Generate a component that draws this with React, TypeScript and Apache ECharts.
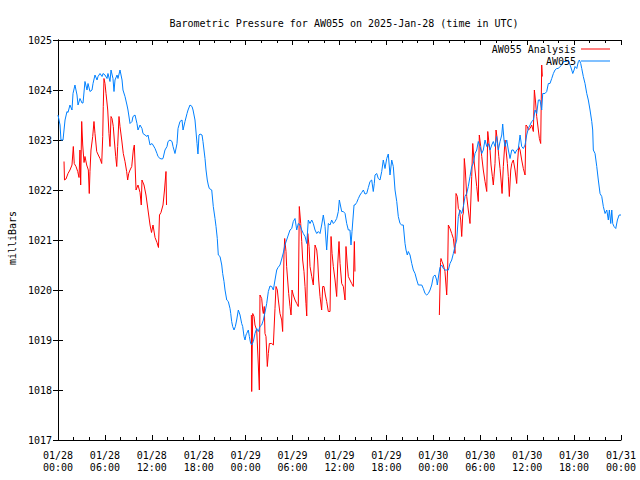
import { useEffect, useRef } from 'react';
import * as echarts from 'echarts';

const FONT = 'DejaVu Sans Mono';

const titleText = 'Barometric Pressure for AW055 on 2025-Jan-28 (time in UTC)';
const yAxisTitle = 'milliBars';
const seriesNames = ['AW055 Analysis', 'AW055'];
const xTickLabels = [
  '01/28\n00:00', '01/28\n06:00', '01/28\n12:00', '01/28\n18:00',
  '01/29\n00:00', '01/29\n06:00', '01/29\n12:00', '01/29\n18:00',
  '01/30\n00:00', '01/30\n06:00', '01/30\n12:00', '01/30\n18:00',
  '01/31\n00:00',
];

// [hours since 2025-01-28 00:00 UTC, pressure mb]
const aw055: [number, number][] = [
  [0.0,1023.5],[0.26,1023.3],[0.38,1023.0],[0.64,1023.0],[0.9,1023.4],[1.15,1023.57],[1.28,1023.55],[1.53,1023.7],[1.79,1023.6],[1.92,1023.93],[2.17,1024.1],[2.43,1023.9],[2.56,1023.7],[2.81,1023.83],[3.07,1023.74],[3.2,1023.74],[3.45,1024.17],[3.71,1024.0],[3.84,1024.13],[4.09,1023.97],[4.35,1024.0],[4.48,1024.13],[4.73,1024.3],[4.99,1024.2],[5.12,1024.27],[5.37,1024.33],[5.63,1024.27],[5.76,1024.33],[6.01,1024.3],[6.27,1024.23],[6.39,1024.33],[6.65,1024.17],[6.78,1024.4],[7.03,1024.23],[7.16,1023.97],[7.29,1024.2],[7.55,1024.3],[7.67,1024.23],[7.93,1024.4],[8.19,1024.2],[8.31,1024.0],[8.57,1023.87],[8.82,1023.7],[8.95,1023.6],[9.21,1023.33],[9.46,1023.37],[9.59,1023.47],[9.85,1023.5],[10.1,1023.33],[10.23,1023.2],[10.49,1023.3],[10.74,1023.23],[10.87,1023.13],[11.13,1023.1],[11.38,1023.07],[11.51,1023.1],[11.77,1022.9],[12.02,1022.93],[12.15,1022.9],[12.41,1022.83],[12.66,1022.73],[12.79,1022.67],[13.05,1022.63],[13.3,1022.62],[13.43,1022.63],[13.68,1022.8],[13.94,1022.87],[14.07,1022.97],[14.32,1023.0],[14.58,1022.97],[14.71,1022.87],[14.96,1022.73],[15.22,1022.93],[15.35,1023.23],[15.6,1023.37],[15.86,1023.4],[15.99,1023.2],[16.24,1023.37],[16.5,1023.53],[16.63,1023.6],[16.88,1023.7],[17.14,1023.67],[17.27,1023.6],[17.52,1023.4],[17.78,1022.93],[17.9,1022.72],[18.03,1023.1],[18.16,1023.12],[18.42,1023.1],[18.54,1022.97],[18.67,1022.8],[18.8,1022.63],[18.93,1022.4],[19.09,1022.2],[19.22,1022.1],[19.35,1022.03],[19.66,1022.0],[19.86,1021.67],[20.08,1021.43],[20.21,1021.27],[20.37,1021.03],[20.5,1020.7],[20.72,1020.67],[20.94,1020.5],[21.06,1020.33],[21.23,1020.17],[21.36,1020.0],[21.58,1019.8],[21.78,1019.77],[22.0,1019.63],[22.09,1019.53],[22.21,1019.37],[22.34,1019.27],[22.51,1019.2],[22.68,1019.27],[22.85,1019.4],[23.06,1019.6],[23.28,1019.5],[23.49,1019.33],[23.62,1019.27],[23.79,1019.07],[23.92,1019.0],[24.04,1019.1],[24.13,1019.13],[24.34,1019.2],[24.47,1019.07],[24.64,1018.93],[24.77,1018.9],[24.98,1018.97],[25.19,1019.13],[25.41,1019.23],[25.62,1019.17],[25.83,1019.27],[26.05,1019.3],[26.26,1019.4],[26.47,1019.55],[26.69,1019.73],[26.9,1019.97],[27.11,1020.08],[27.33,1020.07],[27.54,1020.0],[27.75,1020.2],[27.97,1020.4],[28.14,1020.45],[28.39,1020.5],[28.61,1020.62],[28.81,1020.74],[29.02,1020.9],[29.24,1021.0],[29.45,1021.1],[29.67,1021.2],[29.89,1021.23],[30.09,1021.37],[30.31,1021.43],[30.53,1021.2],[30.73,1021.33],[30.95,1021.3],[31.17,1021.2],[31.37,1021.13],[31.59,1021.07],[31.81,1020.93],[32.01,1021.4],[32.23,1021.33],[32.45,1021.4],[32.65,1021.33],[32.87,1021.2],[33.09,1021.13],[33.29,1021.17],[33.51,1021.13],[33.72,1021.3],[33.93,1021.5],[34.15,1021.27],[34.36,1020.8],[34.57,1021.33],[34.79,1021.3],[35.0,1021.4],[35.21,1021.33],[35.43,1021.37],[35.64,1021.43],[35.85,1021.57],[35.98,1021.8],[36.28,1021.57],[36.49,1021.57],[36.71,1021.53],[36.92,1021.33],[37.13,1021.2],[37.34,1021.2],[37.47,1020.9],[37.6,1021.17],[37.86,1021.7],[37.98,1021.7],[38.2,1021.75],[38.41,1021.83],[38.62,1021.9],[38.84,1021.95],[39.05,1022.0],[39.26,1021.92],[39.48,1021.93],[39.69,1022.05],[39.9,1022.17],[40.12,1022.2],[40.32,1021.97],[40.45,1022.13],[40.54,1022.3],[40.76,1022.33],[40.96,1022.23],[41.18,1022.2],[41.4,1022.37],[41.6,1022.6],[41.82,1022.43],[42.04,1022.63],[42.24,1022.72],[42.46,1022.3],[42.68,1022.6],[42.88,1022.47],[43.1,1022.0],[43.32,1021.77],[43.52,1021.47],[43.74,1021.33],[43.96,1021.3],[44.16,1021.3],[44.38,1020.93],[44.51,1020.8],[44.67,1020.7],[44.8,1020.77],[45.02,1020.7],[45.24,1020.53],[45.44,1020.4],[45.66,1020.33],[45.88,1020.2],[46.08,1020.1],[46.52,1020.1],[46.72,1020.03],[46.94,1019.93],[47.16,1019.9],[47.36,1019.93],[47.58,1020.0],[47.79,1020.1],[48.0,1020.27],[48.22,1020.3],[48.43,1020.2],[48.51,1020.1],[48.69,1020.3],[48.85,1020.45],[49.07,1020.5],[49.28,1020.43],[49.49,1020.4],[49.71,1020.4],[49.92,1020.4],[50.13,1020.53],[50.35,1020.6],[50.56,1020.73],[50.77,1020.87],[50.99,1021.0],[51.2,1021.47],[51.41,1021.6],[51.63,1021.53],[51.84,1021.67],[52.05,1021.87],[52.27,1021.93],[52.47,1022.07],[52.69,1022.27],[52.91,1022.47],[53.11,1022.53],[53.33,1022.73],[53.55,1022.8],[53.75,1022.97],[53.97,1022.87],[54.19,1022.73],[54.39,1022.8],[54.61,1023.0],[54.83,1022.87],[55.03,1022.93],[55.25,1022.8],[55.47,1022.9],[55.67,1022.97],[55.89,1022.87],[56.1,1023.07],[56.31,1022.8],[56.53,1022.97],[56.75,1023.1],[56.87,1023.32],[57.04,1023.0],[57.17,1022.87],[57.39,1023.0],[57.59,1022.8],[57.81,1022.63],[58.03,1022.8],[58.23,1022.8],[58.45,1022.73],[58.66,1022.8],[58.87,1022.83],[59.09,1023.1],[59.3,1022.87],[59.51,1022.83],[59.73,1022.9],[59.94,1023.1],[60.15,1023.23],[60.37,1023.3],[60.58,1023.37],[60.79,1023.4],[61.01,1023.6],[61.22,1023.53],[61.43,1023.8],[61.64,1023.8],[61.86,1023.6],[61.99,1023.93],[62.28,1023.93],[62.5,1023.97],[62.71,1024.13],[62.92,1024.13],[63.14,1024.23],[63.35,1024.33],[63.56,1024.4],[63.78,1024.43],[63.98,1024.43],[64.2,1024.47],[64.42,1024.5],[64.63,1024.57],[65.06,1024.57],[65.27,1024.6],[65.49,1024.5],[65.7,1024.4],[65.83,1024.33],[66.0,1024.4],[66.12,1024.47],[66.34,1024.43],[66.55,1024.57],[66.68,1024.6],[66.85,1024.53],[66.98,1024.43],[67.18,1024.27],[67.4,1024.13],[67.62,1023.93],[67.82,1023.8],[68.04,1023.6],[68.26,1023.37],[68.38,1023.2],[68.46,1022.8],[68.68,1022.73],[68.9,1022.47],[69.1,1022.2],[69.32,1021.93],[69.54,1021.87],[69.74,1021.67],[69.96,1021.53],[70.18,1021.6],[70.38,1021.4],[70.51,1021.6],[70.69,1021.33],[70.82,1021.6],[70.94,1021.33],[71.11,1021.27],[71.33,1021.23],[71.54,1021.4],[71.76,1021.5],[72.0,1021.5],
];

const analysisRun1: [number, number][] = [
  [0.77,1022.57],[0.83,1022.2],[1.02,1022.22],[1.28,1022.33],[1.53,1022.4],[1.79,1022.5],[1.96,1022.87],[2.08,1022.53],[2.3,1022.47],[2.52,1022.37],[2.69,1022.25],[2.81,1022.8],[2.9,1022.1],[3.03,1023.37],[3.16,1022.9],[3.33,1022.55],[3.45,1022.67],[3.67,1022.5],[3.88,1022.4],[4.0,1021.93],[4.09,1022.37],[4.22,1022.8],[4.44,1023.07],[4.6,1023.37],[4.73,1023.13],[4.95,1022.77],[5.15,1022.7],[5.37,1022.63],[5.59,1022.53],[5.72,1023.07],[5.79,1023.67],[5.88,1024.23],[6.01,1024.13],[6.14,1023.93],[6.23,1023.8],[6.36,1023.6],[6.52,1023.13],[6.65,1022.87],[6.78,1023.47],[6.91,1023.43],[7.07,1023.27],[7.2,1023.0],[7.38,1022.67],[7.51,1022.47],[7.63,1022.87],[7.8,1023.47],[7.93,1023.27],[8.15,1023.0],[8.35,1022.73],[8.57,1022.57],[8.78,1022.37],[8.91,1022.2],[9.04,1022.33],[9.21,1022.4],[9.43,1022.47],[9.63,1022.8],[9.76,1022.9],[9.98,1022.0],[10.23,1022.1],[10.49,1021.95],[10.65,1021.7],[10.74,1022.2],[11.0,1022.1],[11.25,1021.9],[11.51,1021.6],[11.77,1021.3],[11.96,1021.15],[12.15,1021.3],[12.41,1021.05],[12.66,1020.95],[12.85,1020.85],[12.98,1021.5],[13.17,1021.55],[13.43,1021.7],[13.62,1022.0],[13.81,1022.37],[13.88,1021.7],
];

const analysisRun2: [number, number][] = [
  [24.73,1019.5],[24.77,1017.97],[24.9,1019.53],[25.07,1019.47],[25.19,1019.3],[25.41,1019.2],[25.62,1018.5],[25.75,1018.0],[25.83,1019.9],[26.05,1019.83],[26.18,1019.6],[26.26,1019.53],[26.38,1019.67],[26.47,1019.13],[26.6,1019.07],[26.77,1018.47],[26.9,1018.73],[27.03,1018.93],[27.33,1018.93],[27.54,1018.9],[27.62,1018.9],[27.75,1019.63],[27.88,1020.07],[28.05,1020.0],[28.18,1019.8],[28.39,1019.53],[28.61,1019.4],[28.73,1019.17],[28.9,1020.7],[28.99,1021.03],[29.16,1020.77],[29.24,1020.47],[29.37,1020.2],[29.5,1019.93],[29.67,1019.67],[29.8,1019.5],[29.93,1020.0],[30.09,1019.9],[30.31,1019.8],[30.53,1019.73],[30.73,1019.67],[30.86,1021.67],[31.04,1021.33],[31.17,1020.97],[31.29,1020.6],[31.46,1020.37],[31.59,1020.07],[31.71,1019.73],[31.81,1019.48],[31.94,1021.13],[32.11,1020.87],[32.23,1020.47],[32.45,1020.27],[32.65,1020.1],[32.87,1020.9],[33.09,1020.8],[33.21,1020.6],[33.34,1020.2],[33.51,1019.87],[33.72,1019.6],[33.85,1020.07],[34.02,1020.07],[34.19,1019.9],[34.36,1019.77],[34.57,1019.57],[34.79,1019.57],[34.92,1021.07],[35.05,1020.73],[35.21,1020.47],[35.43,1020.2],[35.64,1019.87],[35.77,1020.5],[35.94,1020.97],[36.07,1020.53],[36.28,1020.13],[36.49,1020.07],[36.71,1019.8],[36.83,1020.87],[37.0,1020.5],[37.13,1020.27],[37.34,1020.2],[37.56,1020.13],[37.77,1020.07],[37.9,1020.97],[37.98,1020.37],
];

const analysisRun3: [number, number][] = [
  [48.77,1019.5],[48.92,1020.55],[48.98,1020.63],[49.11,1020.57],[49.28,1020.5],[49.49,1020.37],[49.71,1019.9],[49.84,1020.5],[49.92,1021.3],[50.13,1021.23],[50.35,1021.13],[50.56,1021.03],[50.77,1020.73],[50.9,1021.93],[51.07,1021.87],[51.2,1021.63],[51.33,1021.6],[51.5,1021.4],[51.63,1021.07],[51.76,1021.5],[51.84,1021.53],[51.96,1022.63],[52.09,1022.4],[52.27,1021.87],[52.47,1021.6],[52.69,1021.33],[52.91,1022.27],[53.04,1022.93],[53.2,1022.6],[53.33,1022.4],[53.55,1022.07],[53.75,1021.77],[53.88,1023.1],[54.06,1022.87],[54.19,1022.67],[54.39,1022.4],[54.61,1022.17],[54.83,1021.97],[54.96,1023.17],[55.12,1022.93],[55.25,1022.8],[55.38,1022.5],[55.55,1022.27],[55.67,1022.1],[55.89,1022.53],[56.02,1023.2],[56.19,1023.0],[56.37,1022.67],[56.53,1022.43],[56.66,1022.2],[56.79,1021.93],[56.95,1022.47],[57.17,1023.0],[57.3,1022.8],[57.47,1022.53],[57.59,1022.27],[57.72,1021.87],[57.9,1022.4],[58.03,1022.53],[58.23,1022.6],[58.45,1022.4],[58.66,1022.13],[58.79,1022.6],[58.92,1022.87],[59.09,1022.8],[59.3,1022.6],[59.51,1022.43],[59.73,1022.3],[59.85,1023.3],[60.02,1023.27],[60.15,1023.2],[60.37,1023.23],[60.58,1023.3],[60.79,1023.17],[60.92,1024.0],[61.05,1023.8],[61.22,1023.47],[61.43,1023.2],[61.56,1023.03],[61.73,1022.93],[61.86,1024.5],[61.94,1024.27],
];

const X_MIN = 0;
const X_MAX = 72;
const X_STEP = 6;
const Y_MIN = 1017;
const Y_MAX = 1025;
const Y_STEP = 1;

export default function App() {
  const ref = useRef<HTMLDivElement>(null);

  useEffect(() => {
    if (!ref.current) return;
    const chart = echarts.init(ref.current, undefined, { renderer: 'svg' });

    const analysisData: (number | null)[][] = [
      ...analysisRun1,
      [19, null],
      ...analysisRun2,
      [43, null],
      ...analysisRun3,
    ];

    const black = '#000000';
    const textBase = { fontFamily: FONT, fontSize: 10, color: black };

    const xAxisBase = {
      type: 'value' as const,
      min: X_MIN,
      max: X_MAX,
      interval: X_STEP,
      axisLine: { show: true, lineStyle: { color: black, width: 1 } },
      axisTick: { show: true, inside: true, length: 5, lineStyle: { color: black } },
      minorTick: { show: true, splitNumber: 3, length: 3, lineStyle: { color: black } },
      splitLine: { show: false },
      minorSplitLine: { show: false },
    };
    const yAxisBase = {
      type: 'value' as const,
      min: Y_MIN,
      max: Y_MAX,
      interval: Y_STEP,
      axisLine: { show: true, lineStyle: { color: black, width: 1 } },
      axisTick: { show: true, inside: true, length: 5, lineStyle: { color: black } },
      splitLine: { show: false },
    };

    chart.setOption({
      animation: false,
      backgroundColor: '#ffffff',
      title: {
        text: titleText,
        left: 339,
        top: 13,
        textAlign: 'center',
        textStyle: { ...textBase, fontWeight: 'normal' },
      },
      legend: {
        data: seriesNames,
        orient: 'vertical',
        right: 30,
        top: 43,
        padding: 0,
        align: 'right',
        icon: 'rect',
        itemWidth: 29,
        itemHeight: 1,
        itemGap: 0,
        selectedMode: false,
        textStyle: { ...textBase, lineHeight: 12 },
      },
      grid: { left: 58, right: 19, top: 40, bottom: 40, containLabel: false },
      xAxis: [
        {
          ...xAxisBase,
          position: 'bottom',
          axisLabel: {
            ...textBase,
            lineHeight: 12,
            margin: 9,
            formatter: (v: number) => xTickLabels[Math.round((v - X_MIN) / X_STEP)] ?? '',
          },
        },
        { ...xAxisBase, position: 'top', axisLabel: { show: false } },
      ],
      yAxis: [
        {
          ...yAxisBase,
          position: 'left',
          axisLabel: { ...textBase, margin: 6, formatter: (v: number) => String(v) },
        },
        { ...yAxisBase, position: 'right', axisLabel: { show: false } },
      ],
      graphic: [
        {
          type: 'text',
          x: 12,
          y: 238,
          rotation: Math.PI / 2,
          style: {
            text: yAxisTitle,
            fontFamily: FONT,
            fontSize: 10,
            fill: black,
            textAlign: 'center',
            textVerticalAlign: 'middle',
          },
        },
      ],
      series: [
        {
          name: seriesNames[0],
          type: 'line',
          xAxisIndex: 0,
          yAxisIndex: 0,
          data: analysisData,
          symbol: 'none',
          connectNulls: false,
          lineStyle: { color: '#ff0000', width: 1 },
          itemStyle: { color: '#ff0000' },
        },
        {
          name: seriesNames[1],
          type: 'line',
          xAxisIndex: 0,
          yAxisIndex: 0,
          data: aw055,
          symbol: 'none',
          lineStyle: { color: '#0080ff', width: 1 },
          itemStyle: { color: '#0080ff' },
        },
      ],
    });

    return () => chart.dispose();
  }, []);

  return (
    <div
      ref={ref}
      style={{ position: 'absolute', left: 0, top: 0, width: 640, height: 480, background: '#fff' }}
    />
  );
}
